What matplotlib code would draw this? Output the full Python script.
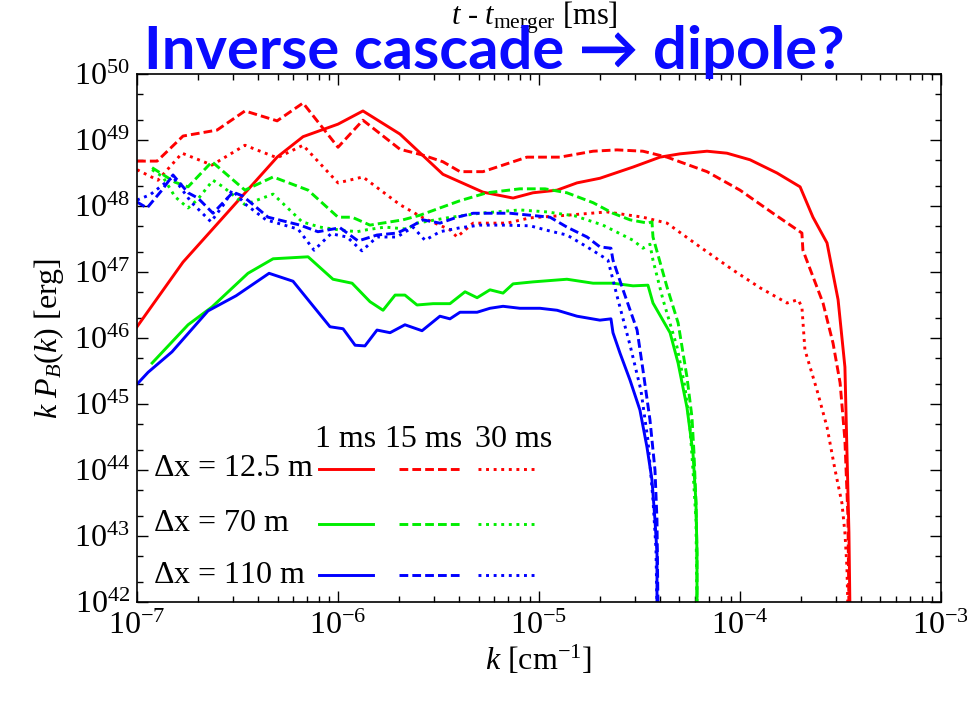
import numpy as np
import matplotlib
matplotlib.use("Agg")
import matplotlib.pyplot as plt
from matplotlib.ticker import LogLocator, LogFormatterMathtext, NullFormatter

plt.rcParams['font.family'] = ['Liberation Serif', 'DejaVu Serif']
plt.rcParams['mathtext.fontset'] = 'custom'
plt.rcParams['mathtext.rm'] = 'Liberation Serif'
plt.rcParams['mathtext.it'] = 'Liberation Serif:italic'

# magnetic energy spectra, stored as log10(k [1/cm]) and log10(k P_B [erg])
# dx = 12.5 m
r1_logk = [-7.0, -6.771, -6.303, -6.174, -6.0, -5.876, -5.692, -5.478, -5.279, -5.129, -5.030, -4.910,
           -4.811, -4.697, -4.532, -4.398, -4.299, -4.164, -4.065, -3.950, -3.816, -3.701, -3.637, -3.567,
           -3.512, -3.478, -3.468, -3.458, -3.453]
r1_logp = [46.17, 47.15, 48.74, 49.05, 49.24, 49.44, 49.09, 48.48, 48.21, 48.12, 48.20, 48.24,
           48.35, 48.42, 48.59, 48.74, 48.79, 48.83, 48.80, 48.70, 48.50, 48.29, 47.83, 47.44,
           46.58, 45.56, 44.30, 43.05, 41.9]
r15_logk = [-7.0, -6.900, -6.771, -6.602, -6.463, -6.303, -6.174, -6.0, -5.876, -5.692, -5.577, -5.478,
            -5.393, -5.279, -5.179, -5.060, -4.896, -4.731, -4.612, -4.483, -4.363, -4.164, -4.0, -3.836,
            -3.692, -3.687, -3.587, -3.537, -3.502, -3.478, -3.463, -3.458]
r15_logp = [48.68, 48.68, 49.06, 49.15, 49.44, 49.29, 49.56, 48.89, 49.30, 48.86, 48.77, 48.67,
            48.52, 48.52, 48.62, 48.74, 48.74, 48.83, 48.85, 48.83, 48.74, 48.52, 48.24, 47.89,
            47.59, 47.33, 46.53, 45.92, 45.32, 44.45, 43.29, 41.9]
r30_logk = [-7.0, -6.896, -6.776, -6.627, -6.463, -6.303, -6.174, -6.0, -5.876, -5.692, -5.577, -5.443,
            -5.408, -5.328, -5.159, -5.045, -4.861, -4.662, -4.483, -4.363, -4.199, -4.035, -3.900, -3.766,
            -3.711, -3.692, -3.677, -3.617, -3.567, -3.527, -3.493, -3.478, -3.468, -3.463]
r30_logp = [48.55, 48.39, 48.80, 48.62, 48.92, 48.73, 48.92, 48.35, 48.44, 48.02, 47.82, 47.64,
            47.53, 47.74, 47.74, 47.82, 47.86, 47.91, 47.83, 47.74, 47.38, 47.03, 46.76, 46.53,
            46.58, 46.47, 45.82, 45.21, 44.65, 44.00, 43.50, 43.05, 42.53, 41.9]

# dx = 70 m
g1_logk = [-6.925, -6.746, -6.627, -6.448, -6.323, -6.149, -6.025, -5.930, -5.841, -5.776, -5.716, -5.667,
           -5.607, -5.527, -5.443, -5.368, -5.308, -5.244, -5.179, -5.129, -5.030, -4.861, -4.731, -4.632,
           -4.532, -4.458, -4.433, -4.348, -4.308, -4.264, -4.234, -4.219, -4.214, -4.214]
g1_logp = [45.62, 46.20, 46.47, 46.98, 47.20, 47.23, 46.89, 46.83, 46.55, 46.42, 46.65, 46.65,
           46.50, 46.52, 46.52, 46.70, 46.61, 46.73, 46.68, 46.82, 46.85, 46.89, 46.83, 46.83,
           46.79, 46.80, 46.53, 46.08, 45.62, 44.95, 44.26, 43.50, 42.74, 41.9]
g15_logk = [-6.925, -6.811, -6.746, -6.627, -6.463, -6.323, -6.149, -6.0, -5.930, -5.841, -5.677, -5.592,
            -5.493, -5.393, -5.259, -5.095, -4.970, -4.861, -4.731, -4.632, -4.547, -4.458, -4.438, -4.433,
            -4.363, -4.308, -4.264, -4.239, -4.229, -4.219, -4.214, -4.214]
g15_logp = [48.58, 48.36, 48.29, 48.67, 48.24, 48.44, 48.24, 47.83, 47.83, 47.71, 47.79, 47.86,
            47.97, 48.08, 48.20, 48.26, 48.26, 48.20, 48.05, 47.89, 47.79, 47.74, 47.76, 47.53,
            46.77, 46.23, 45.41, 44.80, 44.26, 43.50, 42.74, 41.9]
g30_logk = [-6.925, -6.871, -6.811, -6.746, -6.701, -6.622, -6.572, -6.463, -6.323, -6.254, -6.179, -6.090,
            -6.0, -5.905, -5.856, -5.766, -5.657, -5.607, -5.458, -5.294, -5.095, -4.960, -4.821, -4.682,
            -4.532, -4.483, -4.448, -4.433, -4.383, -4.313, -4.274, -4.249, -4.234, -4.219, -4.214]
g30_logp = [48.55, 48.44, 48.14, 47.97, 48.09, 48.39, 48.29, 48.02, 48.18, 47.98, 47.76, 47.68,
            47.64, 47.61, 47.64, 47.68, 47.65, 47.74, 47.82, 47.89, 47.94, 47.91, 47.85, 47.71,
            47.48, 47.36, 47.42, 47.18, 46.58, 45.86, 45.26, 44.65, 44.00, 43.24, 41.9]

# dx = 110 m
b1_logk = [-7.0, -6.945, -6.826, -6.647, -6.507, -6.343, -6.224, -6.040, -5.975, -5.915, -5.866, -5.806,
           -5.741, -5.667, -5.582, -5.493, -5.443, -5.393, -5.308, -5.244, -5.179, -5.095, -4.995, -4.910,
           -4.811, -4.697, -4.642, -4.632, -4.597, -4.547, -4.498, -4.463, -4.438, -4.423, -4.413, -4.413]
b1_logp = [45.30, 45.48, 45.79, 46.41, 46.64, 46.98, 46.86, 46.17, 46.14, 45.89, 45.88, 46.12,
           46.08, 46.20, 46.11, 46.33, 46.29, 46.39, 46.39, 46.45, 46.48, 46.45, 46.45, 46.42,
           46.33, 46.27, 46.29, 46.08, 45.77, 45.36, 44.91, 44.35, 43.85, 43.24, 42.74, 41.9]
b15_logk = [-7.0, -6.950, -6.876, -6.821, -6.746, -6.697, -6.622, -6.522, -6.473, -6.348, -6.189, -6.100,
            -5.990, -5.900, -5.806, -5.706, -5.642, -5.577, -5.493, -5.408, -5.328, -5.144, -5.045, -4.945,
            -4.861, -4.761, -4.697, -4.642, -4.632, -4.582, -4.512, -4.483, -4.448, -4.423, -4.413, -4.408]
b15_logp = [48.06, 47.97, 48.24, 48.47, 48.20, 48.12, 47.89, 48.21, 48.15, 47.83, 47.71, 47.61,
            47.67, 47.47, 47.56, 47.59, 47.68, 47.79, 47.74, 47.83, 47.89, 47.89, 47.86, 47.83,
            47.68, 47.53, 47.38, 47.36, 47.18, 46.73, 46.12, 45.52, 44.76, 44.00, 43.24, 41.9]
b30_logk = [-7.0, -6.935, -6.821, -6.731, -6.632, -6.562, -6.527, -6.458, -6.358, -6.199, -6.119, -6.035,
            -5.955, -5.881, -5.806, -5.706, -5.627, -5.567, -5.493, -5.393, -5.294, -5.179, -5.045, -4.945,
            -4.861, -4.761, -4.682, -4.657, -4.607, -4.547, -4.493, -4.458, -4.433, -4.418, -4.413]
b30_logp = [48.09, 48.17, 48.44, 48.06, 47.76, 48.05, 48.24, 48.02, 47.79, 47.65, 47.33, 47.58,
            47.53, 47.32, 47.53, 47.53, 47.68, 47.48, 47.61, 47.67, 47.71, 47.71, 47.70, 47.62,
            47.56, 47.38, 47.23, 47.18, 46.58, 45.89, 45.21, 44.45, 43.55, 42.80, 41.9]

times = ['1 ms', '15 ms', '30 ms']
resolutions = [r'$\Delta$x = 12.5 m', r'$\Delta$x = 70 m', r'$\Delta$x = 110 m']
colors = ['#ff0000', '#00ee00', '#0000ff']
styles = ['-', (0, (3.0, 1.4)), (0, (1.0, 1.6))]

curves = [
    [(r1_logk, r1_logp), (r15_logk, r15_logp), (r30_logk, r30_logp)],
    [(g1_logk, g1_logp), (g15_logk, g15_logp), (g30_logk, g30_logp)],
    [(b1_logk, b1_logp), (b15_logk, b15_logp), (b30_logk, b30_logp)],
]

fig = plt.figure(figsize=(9.67, 7.02), dpi=100)
ax = fig.add_axes([0.1417, 0.1425, 0.8314, 0.7521])

lw = 2.1
for ci, row in enumerate(curves):
    for ti, (lk, lp) in enumerate(row):
        ax.plot(10.0 ** np.array(lk), 10.0 ** np.array(lp), color=colors[ci],
                linestyle=styles[ti], linewidth=lw)

ax.set_xscale('log')
ax.set_yscale('log')
ax.set_xlim(1e-7, 1e-3)
ax.set_ylim(1e42, 1e50)

ax.xaxis.set_major_locator(LogLocator(base=10, numticks=10))
ax.xaxis.set_minor_locator(LogLocator(base=10, subs=np.arange(2, 10), numticks=20))
ax.yaxis.set_major_locator(LogLocator(base=10, numticks=12))
ax.yaxis.set_minor_locator(LogLocator(base=10, subs=[2.0, 5.0], numticks=20))
ax.xaxis.set_major_formatter(LogFormatterMathtext())
ax.yaxis.set_major_formatter(LogFormatterMathtext())
ax.xaxis.set_minor_formatter(NullFormatter())
ax.yaxis.set_minor_formatter(NullFormatter())
ax.tick_params(which='both', direction='in', top=True, right=True, labelsize=23, width=1.0)
ax.tick_params(which='major', length=8)
ax.tick_params(which='minor', length=4)
ax.tick_params(axis='x', pad=7)
ax.tick_params(axis='y', pad=5)
for sp in ax.spines.values():
    sp.set_linewidth(1.2)

ax.set_xlabel(r'$k$ [cm$^{-1}$]', fontsize=23, labelpad=2)
ax.set_ylabel(r'$k\ P_B(k)$ [erg]', fontsize=23, labelpad=6)

# hand-built key: one row per resolution, one column per time
col_x = [(0.226, 0.294), (0.326, 0.402), (0.424, 0.498)]
head_x = [0.260, 0.357, 0.469]
row_y = [0.252, 0.148, 0.051]
for ti, label in enumerate(times):
    ax.text(head_x[ti], 0.307, label, transform=ax.transAxes,
            ha='center', va='center', fontsize=23)
for ci, label in enumerate(resolutions):
    ax.text(0.020, row_y[ci], label, transform=ax.transAxes,
            ha='left', va='center', fontsize=23)
    for ti in range(3):
        ax.plot(col_x[ti], [row_y[ci]] * 2, transform=ax.transAxes, color=colors[ci],
                linestyle=styles[ti], linewidth=lw)

fig.text(0.553, 0.975, r'$t$ - $t_{\rm merger}$ [ms]', ha='center', va='center', fontsize=22)
fig.text(0.511, 0.901, 'Inverse cascade \u2192 dipole?', ha='center', va='baseline',
         fontsize=43, fontweight='bold', color='#0a0aff', family=['Lato', 'DejaVu Sans'])

fig.savefig('out.png', dpi=100)
